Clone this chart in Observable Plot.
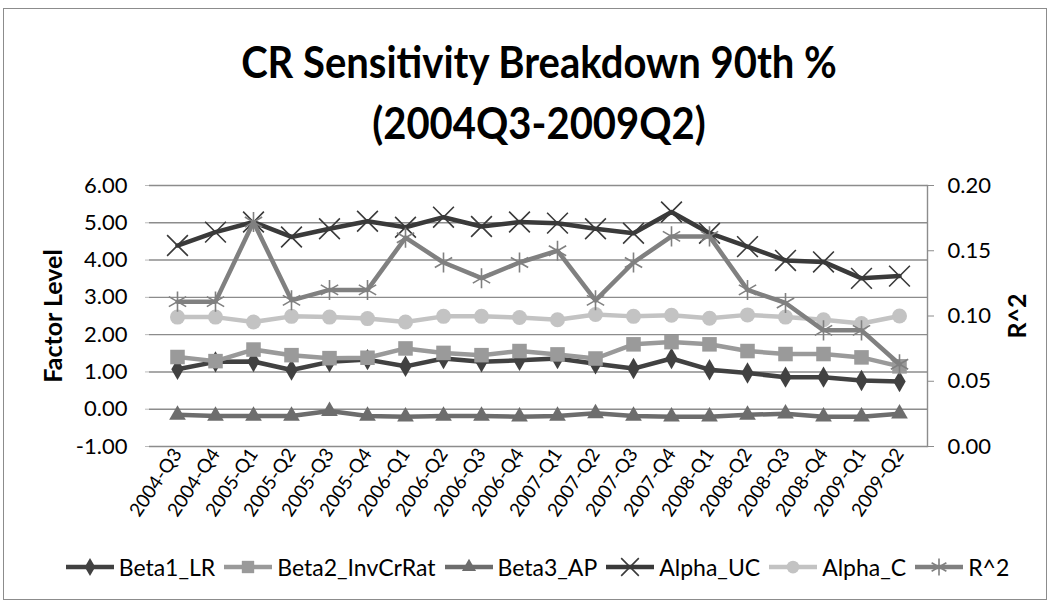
<!DOCTYPE html>
<html>
<head>
<meta charset="utf-8">
<script src="https://cdn.jsdelivr.net/npm/d3@7"></script>
<script src="https://cdn.jsdelivr.net/npm/@observablehq/plot@0.6"></script>
<style>
  body { margin: 0; background: #fff; font-family: Lato, "Open Sans", sans-serif; color: #000; }
  #frame { position: absolute; left: 3px; top: 8px; width: 1044px; height: 592px; border: 1px solid #8c8c8c; box-sizing: border-box; }
  #title { position: absolute; left: 0; width: 1078px; top: 32px; text-align: center; font-weight: bold; font-size: 40px; line-height: 55px; transform: scaleY(1.1); transform-origin: 50% 0; }
  #chart { position: absolute; left: 0; top: 150px; }
  #legend { position: absolute; left: 0; width: 1080px; top: 554px; height: 26px; display: flex; justify-content: center; align-items: center; font-size: 23px; }
  .item { display: flex; align-items: center; margin-right: 7px; }
  .item svg { display: block; margin-right: 3px; }
</style>
</head>
<body>
<div id="frame"></div>
<div id="title">CR Sensitivity Breakdown 90th %<br>(2004Q3-2009Q2)</div>
<div id="chart"></div>
<div id="legend"></div>
<script>
// ---- data ----
const quarters = ["2004-Q3","2004-Q4","2005-Q1","2005-Q2","2005-Q3","2005-Q4","2006-Q1","2006-Q2","2006-Q3","2006-Q4",
                  "2007-Q1","2007-Q2","2007-Q3","2007-Q4","2008-Q1","2008-Q2","2008-Q3","2008-Q4","2009-Q1","2009-Q2"];
const beta1_LR      = [1.07,1.27,1.28,1.05,1.27,1.33,1.15,1.36,1.27,1.31,1.36,1.22,1.09,1.36,1.06,0.97,0.86,0.86,0.77,0.74];
const beta2_InvCrRat= [1.40,1.29,1.60,1.45,1.37,1.38,1.63,1.51,1.45,1.56,1.47,1.36,1.74,1.80,1.74,1.56,1.48,1.48,1.39,1.15];
const beta3_AP      = [-0.15,-0.18,-0.18,-0.18,-0.05,-0.18,-0.20,-0.18,-0.18,-0.20,-0.18,-0.11,-0.18,-0.20,-0.20,-0.15,-0.12,-0.20,-0.20,-0.12];
const alpha_UC      = [4.39,4.75,5.02,4.62,4.84,5.04,4.88,5.15,4.90,5.02,4.99,4.84,4.72,5.29,4.72,4.36,3.99,3.95,3.51,3.57];
const alpha_C       = [2.47,2.47,2.34,2.49,2.47,2.43,2.34,2.49,2.49,2.46,2.40,2.54,2.49,2.52,2.44,2.53,2.47,2.40,2.30,2.50];
const r2            = [0.111,0.111,0.172,0.112,0.120,0.120,0.160,0.141,0.129,0.141,0.150,0.112,0.141,0.161,0.161,0.120,0.110,0.089,0.089,0.063];
const seriesNames   = ["Beta1_LR","Beta2_InvCrRat","Beta3_AP","Alpha_UC","Alpha_C","R^2"];
const leftTicks     = [-1,0,1,2,3,4,5,6];
const rightTicks    = [0,0.05,0.10,0.15,0.20];

// ---- styling ----
const leftDomain = [-1, 6], rightDomain = [0, 0.2];
const toLeft = v => leftDomain[0] + (v - rightDomain[0]) / (rightDomain[1] - rightDomain[0]) * (leftDomain[1] - leftDomain[0]);
const fromLeft = d => rightDomain[0] + (d - leftDomain[0]) / (leftDomain[1] - leftDomain[0]) * (rightDomain[1] - rightDomain[0]);

const styles = [
  {values: beta1_LR,       color: "#414141", symbol: "diamond",  r: 6.5, filled: true,  right: false},
  {values: beta2_InvCrRat, color: "#9a9a9a", symbol: "square",   r: 8.2, filled: true,  right: false},
  {values: beta3_AP,       color: "#6d6d6d", symbol: "triangle", r: 6.2, filled: true,  right: false},
  {values: alpha_UC,       color: "#3a3a3a", symbol: "times",    r: 9.5, filled: false, right: false},
  {values: alpha_C,        color: "#c3c3c3", symbol: "circle",   r: 7.5, filled: true,  right: false},
  {values: r2,             color: "#808080", symbol: "asterisk", r: 9.5, filled: false, right: true}
];

const marks = [
  Plot.gridY(leftTicks, {stroke: "#8c8c8c", strokeOpacity: 1, strokeWidth: 1.4}),
  Plot.axisY({ticks: leftTicks, tickFormat: d => d.toFixed(2), tickSize: 4, tickPadding: 18, fontSize: 22, label: null, stroke: "#bbb"}),
  Plot.axisY({anchor: "right", ticks: rightTicks.map(toLeft), tickFormat: d => fromLeft(d).toFixed(2), tickSize: 6, tickPadding: 14, fontSize: 22, label: null, stroke: "#8c8c8c"}),
  Plot.frame({anchor: "right", stroke: "#8c8c8c", strokeWidth: 1.4}),
  Plot.axisX({tickRotate: -56, tickSize: 0, tickPadding: 4, fontSize: 19, label: null}),
  Plot.text(["Factor Level"], {text: d => d, frameAnchor: "left", textAnchor: "middle", dx: -96, rotate: -90, fontWeight: "bold", fontSize: 25}),
  Plot.text(["R^2"], {text: d => d, frameAnchor: "right", textAnchor: "middle", dx: 90, rotate: -90, fontWeight: "bold", fontSize: 25})
];

styles.forEach((s, k) => {
  const data = quarters.map((q, i) => ({q, v: s.right ? toLeft(s.values[i]) : s.values[i], name: seriesNames[k]}));
  marks.push(Plot.line(data, {x: "q", y: "v", stroke: s.color, strokeWidth: 4.5, strokeLinejoin: "round"}));
  marks.push(Plot.dot(data, s.filled
    ? {x: "q", y: "v", symbol: () => s.symbol, r: s.r, fill: s.color, stroke: "none"}
    : {x: "q", y: "v", symbol: () => s.symbol, r: s.r, fill: "none", stroke: s.color, strokeWidth: 1.6}));
});

const chart = Plot.plot({
  width: 1053, height: 390,
  marginTop: 35, marginBottom: 94, marginLeft: 149, marginRight: 126,
  x: {type: "point", domain: quarters, padding: 0.5},
  y: {domain: leftDomain},
  symbol: {type: "identity"},
  style: {fontFamily: "Lato, 'Open Sans', sans-serif", color: "#000", background: "transparent"},
  marks
});
document.getElementById("chart").append(chart);

// ---- legend ----
const legend = d3.select("#legend");
styles.forEach((s, k) => {
  const item = legend.append("div").attr("class", "item");
  const svg = item.append("svg").attr("width", 52).attr("height", 22);
  svg.append("line").attr("x1", 2).attr("x2", 50).attr("y1", 11).attr("y2", 11)
     .attr("stroke", s.color).attr("stroke-width", 4.5);
  const sym = {diamond: d3.symbolDiamond, square: d3.symbolSquare, triangle: d3.symbolTriangle,
               times: d3.symbolTimes, circle: d3.symbolCircle, asterisk: d3.symbolAsterisk}[s.symbol];
  const size = Math.PI * (s.r * 0.85) ** 2;
  const p = svg.append("path").attr("d", d3.symbol(sym, size)()).attr("transform", "translate(26,11)");
  if (s.filled) p.attr("fill", s.color); else p.attr("fill", "none").attr("stroke", s.color).attr("stroke-width", 1.6);
  item.append("span").text(seriesNames[k]);
});
</script>
</body>
</html>
